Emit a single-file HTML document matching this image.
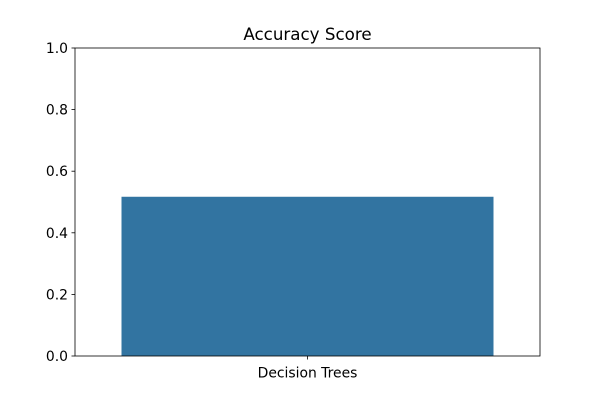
<!DOCTYPE html>
<html><head><meta charset="utf-8"><style>
body{margin:0;background:#fff;}
svg text{font-family:"DejaVu Sans","Liberation Sans",sans-serif;fill:#000;}
</style></head><body>
<svg id="chart" width="600" height="400">
<rect width="600" height="400" fill="#fff"></rect>
<text x="307.5" y="40" text-anchor="middle" font-size="16.7px">Accuracy Score</text>
<g id="plot"></g>
</svg>
<script>
const categories = ["Decision Trees"];
const values = [0.517];
const yTicks = [0.0, 0.2, 0.4, 0.6, 0.8, 1.0];
const L=75,R=540,T=48,B=356;
const ns="http://www.w3.org/2000/svg";
const g=document.getElementById('plot');
const y=v=>B-(v-0)/(1-0)*(B-T);
const n=categories.length;
const bw=(R-L)/n;
const x=i=>L+bw*(i+0.5);
function mk(t,a){const e=document.createElementNS(ns,t);for(const k in a)e.setAttribute(k,a[k]);g.appendChild(e);return e;}
values.forEach((v,i)=>{
  const r=mk('rect',{x:x(i)-bw*0.4,y:y(v),width:bw*0.8,height:B-y(v),fill:'#3274a1'});
  
  
  const tk=mk('line',{x1:x(i),x2:x(i),y1:B,y2:B+3.5,stroke:'#000','stroke-width':0.8});
  
  
  const lb=mk('text',{x:x(i),y:B+21.5,'text-anchor':'middle','font-size':'13.9px'});
  lb.textContent=categories[i];
  
  
});
yTicks.forEach(t=>{
  const tk=mk('line',{x1:L-3.5,x2:L,y1:y(t),y2:y(t),stroke:'#000','stroke-width':0.8});
  
  
  const lb=mk('text',{x:L-7,y:y(t)+5,'text-anchor':'end','font-size':'13.9px'});
  lb.textContent=t.toFixed(1);
  
  
});
const fr=mk('rect',{x:L,y:T,width:R-L,height:B-T,fill:'none',stroke:'#000','stroke-width':0.8});


</script>
</body></html>
